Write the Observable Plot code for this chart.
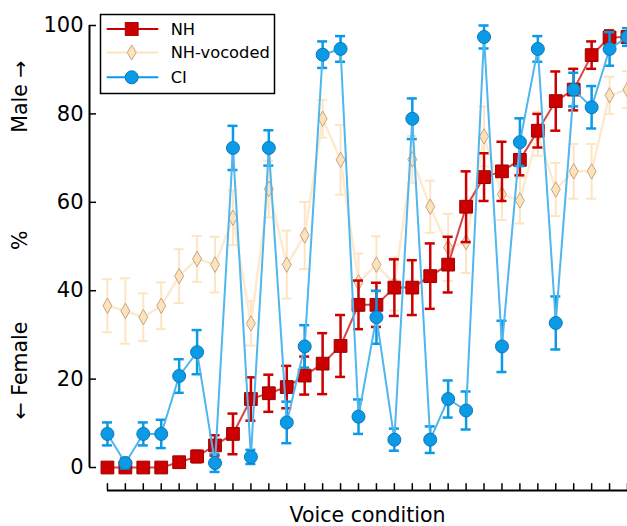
<!DOCTYPE html>
<html><head><meta charset="utf-8">
<script src="https://cdn.jsdelivr.net/npm/d3@7"></script>
<script src="https://cdn.jsdelivr.net/npm/@observablehq/plot@0.6"></script>
<style>
html,body{margin:0;padding:0;background:#fff;overflow:hidden;}
#wrap{position:relative;width:627px;height:526px;overflow:hidden;}
#wrap svg.plot{display:block;}
#legend{position:absolute;left:0;top:0;}
</style></head><body><div id="wrap"></div>
<script>
// ---- data ----
const conditions = d3.range(1, 31);
const nhValues = [0,0,0,0,1.2,2.5,5.0,7.6,15.5,16.8,18.2,20.8,23.5,27.5,36.8,36.8,40.7,40.7,43.3,45.9,59.0,65.7,67.0,69.6,76.2,82.9,85.5,93.3,97.3,97.4];
const nhErr    = [0,0,0,0,0.3,1.3,2.3,4.6,4.9,4.2,4.8,4.3,6.9,7.0,5.5,5.0,6.4,6.2,7.4,6.3,8.0,5.4,6.7,3.5,3.8,6.7,4.7,3.1,1.6,1.2];
const vocValues = [36.6,35.4,34.0,36.6,43.3,47.2,45.9,56.5,32.6,63.0,45.9,52.5,78.9,69.6,41.9,45.9,41.5,69.7,59.0,49.8,51.0,74.9,61.8,60.4,75.5,62.9,67.0,67.0,84.2,85.5];
const vocErr    = [6.0,7.4,5.4,5.3,6.1,5.2,6.3,6.2,5.0,6.4,7.7,7.6,4.3,7.9,6.5,6.4,6.0,5.3,5.9,7.6,7.0,6.8,5.8,5.2,5.0,6.0,6.2,6.2,4.2,4.2];
const ciValues = [7.6,1.0,7.6,7.6,20.7,26.1,1.0,72.3,2.4,72.3,10.2,27.4,93.4,94.7,11.5,34.0,6.3,78.9,6.3,15.5,12.9,97.4,27.4,73.6,94.7,32.7,85.5,81.5,94.7,97.4];
const ciErr    = [2.6,1.2,2.6,3.2,3.8,5.0,2.0,5.0,1.6,4.0,4.7,4.8,3.0,2.9,3.9,6.0,2.5,4.6,3.0,4.2,4.3,2.6,5.8,5.4,2.9,6.0,3.8,4.8,3.8,2.0];
const yTicks = [0, 20, 40, 60, 80, 100];
const seriesNames = ["NH", "NH-vocoded", "CI"];
const xLabel = "Voice condition";
const yLabel = "← Female" + "\u00A0".repeat(11) + "%" + "\u00A0".repeat(15) + "Male →";

// ---- styles ----
const C = {
  nh: {fill: "#cc0000", stroke: "#9e0000", line: "#d94444", err: "#cc0000"},
  voc: {fill: "#fee2bb", stroke: "#c2a684", line: "#feeacf", err: "#fde5c4"},
  ci: {fill: "#0a9ae6", stroke: "#0b79b8", line: "#4fb6ee", err: "#0a9ae6"}
};
const yFloor = -5.2;
const capHalf = 0.28;

function rows(vals, errs) {
  return conditions.map((c, i) => ({c, v: vals[i], lo: vals[i] - errs[i], hi: vals[i] + errs[i]}));
}
const nh = rows(nhValues, nhErr), voc = rows(vocValues, vocErr), ci = rows(ciValues, ciErr);

function errMarks(data, color, sw) {
  return [
    Plot.ruleX(data, {x: "c", y1: "lo", y2: "hi", stroke: color, strokeWidth: sw}),
    Plot.ruleY(data, {y: "hi", x1: d => d.c - capHalf, x2: d => d.c + capHalf, stroke: color, strokeWidth: sw}),
    Plot.ruleY(data, {y: "lo", x1: d => d.c - capHalf, x2: d => d.c + capHalf, stroke: color, strokeWidth: sw})
  ];
}

const chart = Plot.plot({
  width: 627, height: 526,
  marginLeft: 89, marginRight: 0, marginTop: 25, marginBottom: 36,
  x: {domain: [0, 30], axis: null},
  y: {domain: [yFloor, 100], axis: null},
  style: {fontFamily: "DejaVu Sans", background: "white", color: "black"},
  marks: [
    // vocoded
    ...errMarks(voc, C.voc.err, 2),
    Plot.line(voc, {x: "c", y: "v", stroke: C.voc.line, strokeWidth: 2.5}),
    Plot.dot(voc, {x: "c", y: "v", symbol: "diamond", r: 4.7, fill: C.voc.fill, stroke: C.voc.stroke, strokeWidth: 1}),
    // NH
    ...errMarks(nh, C.nh.err, 2.5),
    Plot.line(nh, {x: "c", y: "v", stroke: C.nh.line, strokeWidth: 2}),
    Plot.dot(nh, {x: "c", y: "v", symbol: "square", r: 7.2, fill: C.nh.fill, stroke: C.nh.stroke, strokeWidth: 1}),
    // CI
    ...errMarks(ci, C.ci.err, 2.5),
    Plot.line(ci, {x: "c", y: "v", stroke: C.ci.line, strokeWidth: 2}),
    Plot.dot(ci, {x: "c", y: "v", symbol: "circle", r: 6.5, fill: C.ci.fill, stroke: C.ci.stroke, strokeWidth: 1}),
    // axes
    Plot.ruleX([0], {y1: d3.min(yTicks), y2: d3.max(yTicks), stroke: "black", strokeWidth: 2}),
    Plot.ruleY(yTicks, {x1: 0, x2: 0.39, stroke: "black", strokeWidth: 1.5}),
    Plot.axisY(yTicks, {tickSize: 0, tickPadding: 6, fontSize: 21, label: null}),
    Plot.ruleY([yFloor], {x1: d3.min(conditions), x2: d3.max(conditions), stroke: "black", strokeWidth: 2}),
    Plot.ruleX(conditions, {y1: yFloor, y2: yFloor + 1.55, stroke: "black", strokeWidth: 1.5}),
    Plot.text([xLabel], {frameAnchor: "bottom", dx: 9, dy: 25, fontSize: 20.5, lineAnchor: "middle"}),
    Plot.text([yLabel], {frameAnchor: "left", rotate: -90, dx: -69, dy: -18, fontSize: 20.5, textAnchor: "middle", lineAnchor: "middle"})
  ]
});
const wrap = document.getElementById("wrap");
wrap.appendChild(chart);

// ---- legend ----
const ns = "http://www.w3.org/2000/svg";
const lg = document.createElementNS(ns, "svg");
lg.setAttribute("id", "legend");
lg.setAttribute("width", 300); lg.setAttribute("height", 110);
lg.style.fontFamily = "DejaVu Sans";
function el(tag, attrs) { const e = document.createElementNS(ns, tag); for (const k in attrs) e.setAttribute(k, attrs[k]); lg.appendChild(e); return e; }
el("rect", {x: 100.5, y: 14.5, width: 174, height: 79, fill: "white", stroke: "black", "stroke-width": 1.5});
const rowsY = [29, 52.5, 77.3];
const legStyles = [C.nh, C.voc, C.ci];
seriesNames.forEach((name, i) => {
  const y = rowsY[i], s = legStyles[i], cx = 131.7;
  el("line", {x1: 106.7, x2: 158.3, y1: y, y2: y, stroke: i === 0 ? "#cc0000" : i === 1 ? "#fde4c2" : "#0a9ae6", "stroke-width": 2});
  if (i === 0) el("rect", {x: cx - 6.4, y: y - 6.4, width: 12.8, height: 12.8, fill: s.fill, stroke: s.stroke});
  if (i === 1) el("path", {d: `M${cx},${y-7.5}L${cx+4.5},${y}L${cx},${y+7.5}L${cx-4.5},${y}Z`, fill: s.fill, stroke: s.stroke});
  if (i === 2) el("circle", {cx, cy: y, r: 6.5, fill: s.fill, stroke: s.stroke});
  const t = el("text", {x: 170.7, y, "dominant-baseline": "central", "font-size": 16.3, fill: "black"});
  t.textContent = name;
});
wrap.appendChild(lg);
</script>
</body></html>
